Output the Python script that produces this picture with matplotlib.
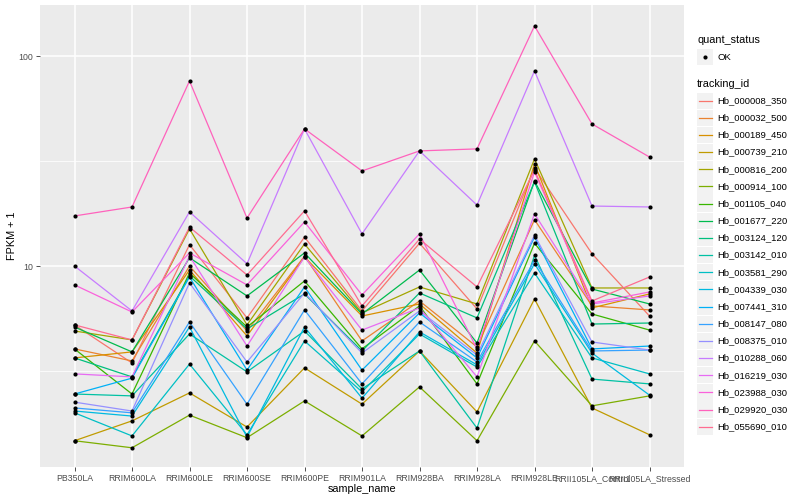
import matplotlib
matplotlib.use("Agg")
import matplotlib.pyplot as plt
from matplotlib.patches import Rectangle
from matplotlib.lines import Line2D
import numpy as np

plt.rcParams['font.family'] = ['Liberation Sans', 'DejaVu Sans']

samples = ["PB350LA", "RRIM600LA", "RRIM600LE", "RRIM600SE", "RRIM600PE",
           "RRIM901LA", "RRIM928BA", "RRIM928LA", "RRIM928LE",
           "RRII105LA_Control", "RRII105LA_Stressed"]

tracking_ids = ["Hb_000008_350", "Hb_000032_500", "Hb_000189_450", "Hb_000739_210",
                "Hb_000816_200", "Hb_000914_100", "Hb_001105_040", "Hb_001677_220",
                "Hb_003124_120", "Hb_003142_010", "Hb_003581_290", "Hb_004339_030",
                "Hb_007441_310", "Hb_008147_080", "Hb_008375_010", "Hb_010288_060",
                "Hb_016219_030", "Hb_023988_030", "Hb_029920_030", "Hb_055690_010"]

# FPKM + 1 values per tracking id, in sample order
hb_000008_350 = [5.27, 3.47, 12.7, 5.69, 13.8, 6.14, 12.9, 6.28, 29.4, 11.5, 5.81]
hb_000032_500 = [4.05, 3.55, 10.05, 4.93, 11.2, 4.42, 6.85, 4.14, 16.7, 6.49, 6.21]
hb_000189_450 = [3.67, 3.92, 9.62, 4.67, 11.1, 5.81, 6.63, 3.87, 30.8, 6.35, 7.40]
hb_000739_210 = [1.48, 1.84, 2.50, 1.72, 3.29, 2.21, 3.96, 2.03, 7.00, 2.12, 1.58]
hb_000816_200 = [4.93, 4.47, 15.1, 5.27, 12.8, 6.01, 7.99, 6.63, 32.5, 7.90, 7.90]
hb_000914_100 = [1.48, 1.37, 1.96, 1.53, 2.29, 1.56, 2.67, 1.48, 4.42, 2.17, 2.42]
hb_001105_040 = [4.05, 2.47, 9.31, 5.15, 8.53, 4.05, 6.49, 2.76, 12.9, 5.94, 4.98]
hb_001677_220 = [5.15, 3.92, 11.0, 7.24, 11.6, 5.94, 9.62, 4.32, 25.5, 7.81, 6.63]
hb_003124_120 = [3.67, 2.98, 9.01, 5.04, 7.40, 3.96, 7.48, 5.69, 25.3, 5.32, 5.38]
hb_003142_010 = [2.47, 2.42, 4.77, 3.15, 4.93, 2.61, 3.96, 1.70, 11.3, 2.91, 2.76]
hb_003581_290 = [2.01, 1.56, 3.43, 1.58, 4.42, 2.53, 4.77, 3.32, 9.31, 3.67, 3.08]
hb_004339_030 = [2.05, 1.94, 5.15, 1.54, 5.15, 2.36, 4.88, 3.40, 10.3, 3.87, 2.44]
hb_007441_310 = [2.47, 2.94, 8.91, 3.21, 7.99, 3.21, 6.01, 3.67, 13.8, 4.05, 4.18]
hb_008147_080 = [2.12, 2.01, 5.44, 2.21, 6.21, 2.76, 5.44, 3.51, 10.7, 3.96, 4.00]
hb_008375_010 = [2.26, 2.05, 8.35, 3.51, 7.48, 3.87, 6.14, 3.79, 14.1, 4.37, 4.00]
hb_010288_060 = [10.05, 6.14, 18.2, 10.3, 45.2, 14.3, 35.5, 19.6, 85.3, 19.4, 19.2]
hb_016219_030 = [3.08, 2.98, 11.2, 4.18, 11.1, 4.98, 6.35, 2.98, 17.8, 6.63, 7.24]
hb_023988_030 = [8.17, 6.07, 11.6, 8.17, 16.3, 7.32, 14.3, 4.05, 28.2, 6.70, 7.56]
hb_029920_030 = [17.4, 19.2, 76.4, 17.0, 45.2, 28.5, 35.5, 36.3, 139.7, 47.7, 33.2]
hb_055690_010 = [5.27, 4.47, 15.4, 9.11, 18.4, 6.49, 13.5, 7.99, 28.8, 6.85, 8.91]

series = [hb_000008_350, hb_000032_500, hb_000189_450, hb_000739_210, hb_000816_200,
          hb_000914_100, hb_001105_040, hb_001677_220, hb_003124_120, hb_003142_010,
          hb_003581_290, hb_004339_030, hb_007441_310, hb_008147_080, hb_008375_010,
          hb_010288_060, hb_016219_030, hb_023988_030, hb_029920_030, hb_055690_010]

colors = ["#F8766D", "#EA8331", "#D89000", "#C09B00", "#A3A500", "#7CAE00", "#39B600",
          "#00BB4E", "#00BF7D", "#00C1A3", "#00BFC4", "#00BAE0", "#00B0F6", "#35A2FF",
          "#9590FF", "#C77CFF", "#E76BF3", "#FA62DB", "#FF62BC", "#FF6C91"]

W, H = 800, 500
fig = plt.figure(figsize=(8, 5), dpi=100)
fig.patch.set_facecolor("white")

def fx(x):
    return x / W

def fy(y):
    return 1 - y / H

pl, pr, pt, pb = 40, 684, 5, 467
ax = fig.add_axes([fx(pl), fy(pb), (pr - pl) / W, (pb - pt) / H])
ax.set_facecolor("#EBEBEB")
for s in ax.spines.values():
    s.set_visible(False)

x = np.arange(len(samples))
for vals, c in zip(series, colors):
    ax.plot(x, vals, color=c, lw=0.9, zorder=3, solid_capstyle="butt")
for vals in series:
    ax.plot(x, vals, ls="none", marker="o", ms=3.0, color="black", mew=0, zorder=4)

ax.set_yscale("log")
ax.set_ylim(10 ** 0.0452, 10 ** 2.245)
ax.set_xlim(-0.6, len(samples) - 0.4)
ax.set_xticks(x)
ax.set_xticklabels(samples)
ax.set_yticks([10, 100])
ax.set_yticklabels(["10", "100"])
ax.set_yticks([10 ** 0.5, 10 ** 1.5], minor=True)
ax.set_xticks([], minor=True)
ax.tick_params(axis="both", which="major", length=3, width=0.6, color="#333333",
               labelsize=6.3, labelcolor="#4D4D4D", pad=2)
ax.tick_params(axis="y", which="minor", length=0)
ax.grid(True, which="major", color="white", lw=1.1, zorder=0)
ax.grid(True, which="minor", axis="y", color="white", lw=0.55, zorder=0)
ax.set_axisbelow(True)

ax.set_xlabel("sample_name", fontsize=7.8, color="black", labelpad=1)
ax.set_ylabel("FPKM + 1", fontsize=7.8, color="black", labelpad=1)

# Legend (drawn manually, ggplot style)
kx, kw = 697, 16
fig.text(fx(697), fy(40), "quant_status", fontsize=7.8, ha="left", va="center")
fig.patches.append(Rectangle((fx(kx), fy(65)), kw / W, 16 / H, transform=fig.transFigure,
                             facecolor="#F2F2F2", edgecolor="none"))
fig.lines.append(Line2D([fx(kx + kw / 2)], [fy(57)], transform=fig.transFigure,
                        marker="o", ms=3.0, color="black", mew=0))
fig.text(fx(717), fy(57), "OK", fontsize=6.8, ha="left", va="center")

fig.text(fx(697), fy(84), "tracking_id", fontsize=7.8, ha="left", va="center")
step = (426.7 - 100.7) / 19
for i, (tid, c) in enumerate(zip(tracking_ids, colors)):
    yc = 100.7 + i * step
    fig.patches.append(Rectangle((fx(kx), fy(yc + 8.2)), kw / W, 16.4 / H,
                                 transform=fig.transFigure, facecolor="#F2F2F2",
                                 edgecolor="none"))
    fig.lines.append(Line2D([fx(kx + 1.5), fx(kx + kw - 1.5)], [fy(yc), fy(yc)],
                            transform=fig.transFigure, color=c, lw=0.9))
    fig.text(fx(717), fy(yc), tid, fontsize=6.8, ha="left", va="center")

fig.savefig("out.png", dpi=100)
